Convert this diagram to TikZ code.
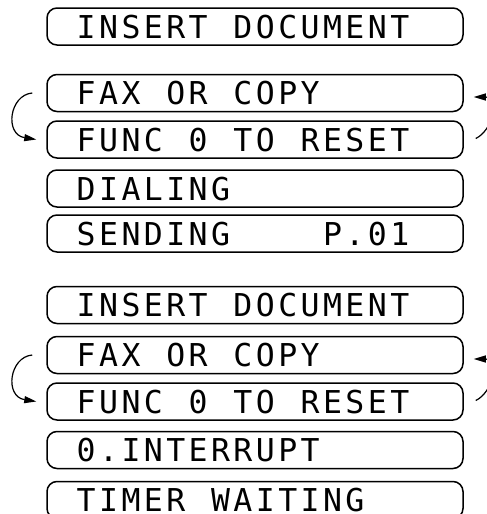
\documentclass[tikz,border=0pt]{standalone}
\usepackage{fontspec}
\newfontfamily\lcdfont{DejaVu Sans Mono}
\usetikzlibrary{arrows.meta, positioning}

% one fixed cell per character, as on the display
\ExplSyntaxOn
\NewDocumentCommand \lcdrow { m }
  { \tl_map_inline:nn {#1} { \makebox[22.4pt]{##1} } }
\ExplSyntaxOff

\begin{document}
\begin{tikzpicture}[x=1pt, y=-1pt,
  lcd/.style={draw, line width=1.5pt, rounded corners=10pt, minimum width=416pt, minimum height=37pt,
    text width=360pt, inner xsep=28pt, inner ysep=0pt, align=left, text height=23pt, text depth=0pt,
    font=\lcdfont\fontsize{31.5}{31.5}\selectfont},
  cycarrow/.style={line width=1.2pt, -{Triangle[length=12pt, width=7pt]}}]
  \useasboundingbox (0,0) rectangle (487,514);
  \clip (0,0) rectangle (487,514);

  % first run
  \node[lcd] (insert1) at (255,26.5) {\lcdrow{INSERT~DOCUMENT}};
  \node[lcd] (fax1) at (255,93) {\lcdrow{FAX~OR~COPY}};
  \node[lcd] (func1) at (255,139.5) {\lcdrow{FUNC~0~TO~RESET}};
  \node[lcd] (dialing) at (255,188.5) {\lcdrow{DIALING}};
  \node[lcd] (sending) at (255,233.5) {\lcdrow{SENDING~~~~P.01}};

  \draw[cycarrow] ([xshift=-14pt]fax1.west) .. controls +(-23,2) and +(-32,-5) .. ([xshift=-10pt]func1.west);
  \draw[cycarrow] ([xshift=12pt, yshift=1pt]func1.east) .. controls +(17,-8) and +(27,0) .. ([xshift=10pt, yshift=-4pt]fax1.east);

  % second run
  \node[lcd] (insert2) at (255,305) {\lcdrow{INSERT~DOCUMENT}};
  \node[lcd] (fax2) at (255,355) {\lcdrow{FAX~OR~COPY}};
  \node[lcd] (func2) at (255,401.5) {\lcdrow{FUNC~0~TO~RESET}};
  \node[lcd] (interrupt) at (255,450) {\lcdrow{0.INTERRUPT}};
  \node[lcd] (timer) at (255,500) {\lcdrow{TIMER~WAITING}};

  \draw[cycarrow] ([xshift=-14pt]fax2.west) .. controls +(-23,2) and +(-32,-5) .. ([xshift=-10pt]func2.west);
  \draw[cycarrow] ([xshift=12pt, yshift=1pt]func2.east) .. controls +(17,-8) and +(27,0) .. ([xshift=10pt, yshift=-4pt]fax2.east);
\end{tikzpicture}
\end{document}
